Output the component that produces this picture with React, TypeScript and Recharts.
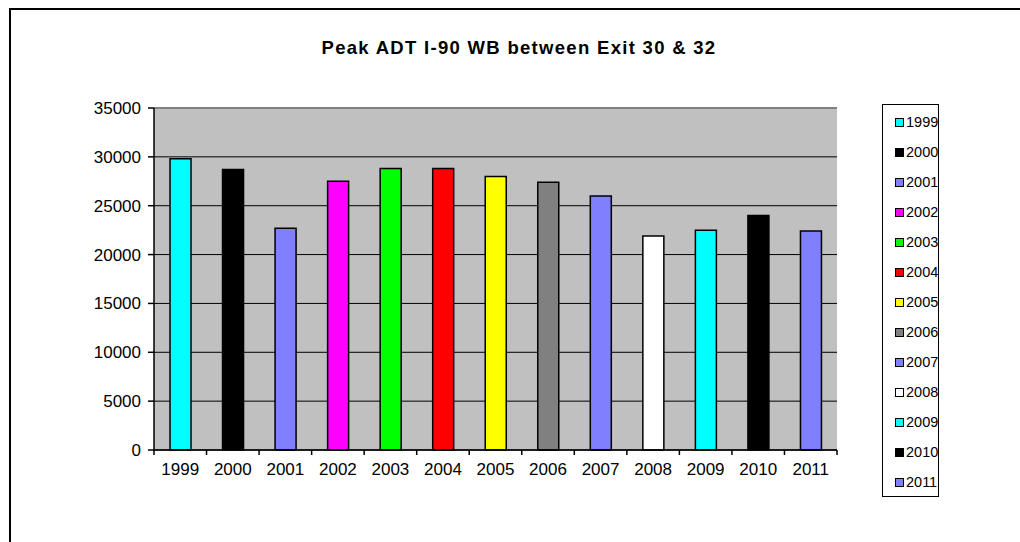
import React from 'react';
import {
  BarChart,
  Bar,
  Cell,
  XAxis,
  YAxis,
  CartesianGrid,
  ReferenceLine,
} from 'recharts';

const years = ['1999', '2000', '2001', '2002', '2003', '2004', '2005', '2006', '2007', '2008', '2009', '2010', '2011'];
const peakAdt = [29800, 28700, 22700, 27500, 28800, 28800, 28000, 27400, 26000, 21900, 22500, 24000, 22400];
const barColors = [
  '#00FFFF', '#000000', '#8080FF', '#FF00FF', '#00FF00', '#FF0000', '#FFFF00',
  '#808080', '#8080FF', '#FFFFFF', '#00FFFF', '#000000', '#8080FF',
];
const yTicks = [0, 5000, 10000, 15000, 20000, 25000, 30000, 35000];

const chartData = years.map((year, i) => ({ year, adt: peakAdt[i] }));

const FONT = 'Arial, "Liberation Sans", sans-serif';

// excel style: tick marks sit between categories, not under them
function YearTick(props: any) {
  const { x, y, payload, index, visibleTicksCount } = props;
  const band = (props.width ?? 683) / visibleTicksCount;
  const axisY = y - 13;
  return (
    <g>
      <line x1={x - band / 2} x2={x - band / 2} y1={axisY} y2={axisY + 5} stroke="#000" strokeWidth={1.5} />
      {index === visibleTicksCount - 1 && (
        <line x1={x + band / 2} x2={x + band / 2} y1={axisY} y2={axisY + 5} stroke="#000" strokeWidth={1.5} />
      )}
      <text x={x} y={y} dy="0.71em" textAnchor="middle" fontSize={17} fontFamily={FONT} fill="#000">
        {payload.value}
      </text>
    </g>
  );
}

function ValueTick(props: any) {
  const { x, y, payload } = props;
  return (
    <text x={x} y={y} dy="0.355em" textAnchor="end" fontSize={17} fontFamily={FONT} fill="#000">
      {payload.value}
    </text>
  );
}

export default function App() {
  return (
    <div style={{ position: 'absolute', left: 0, top: 0, width: 1020, height: 542, background: '#fff', overflow: 'hidden', fontFamily: FONT }}>
      <div style={{ position: 'absolute', left: 9, top: 8, width: 1030, height: 560, border: '2px solid #000', boxSizing: 'border-box' }} />
      <div style={{ position: 'absolute', left: 0, top: 37, width: 1038, textAlign: 'center', fontSize: 18.5, fontWeight: 'bold', letterSpacing: 1.3 }}>
        Peak ADT I-90 WB between Exit 30 &amp; 32
      </div>
      <div style={{ position: 'absolute', left: 0, top: 0 }}>
        <BarChart width={1020} height={542} data={chartData} margin={{ top: 108, right: 183, bottom: 62, left: 0 }} barSize={21}>
          <CartesianGrid vertical={false} stroke="#000" strokeWidth={1} fill="#C0C0C0" fillOpacity={1} />
          <ReferenceLine y={35000} stroke="#808080" strokeWidth={2} />
          <XAxis
            dataKey="year"
            height={30}
            tickSize={5}
            tickMargin={8}
            tickLine={false}
            axisLine={{ stroke: '#000', strokeWidth: 1.5 }}
            tick={<YearTick />}
            interval={0}
          />
          <YAxis
            width={154}
            domain={[0, 35000]}
            ticks={yTicks}
            tickSize={6}
            tickMargin={7}
            axisLine={{ stroke: '#000', strokeWidth: 1.5 }}
            tickLine={{ stroke: '#000', strokeWidth: 1.5 }}
            tick={<ValueTick />}
          />
          <Bar dataKey="adt" stroke="#000" strokeWidth={1.5} isAnimationActive={false}>
            {chartData.map((d, i) => (
              <Cell key={d.year} fill={barColors[i]} />
            ))}
          </Bar>
        </BarChart>
      </div>
      <div style={{ position: 'absolute', left: 882, top: 104, width: 57, height: 393, border: '1px solid #000', boxSizing: 'border-box', background: '#fff' }}>
        {years.map((year, i) => (
          <div key={year} style={{ position: 'absolute', left: 12, top: 8 + i * 30, height: 18, display: 'flex', alignItems: 'center', fontSize: 14.5 }}>
            <span style={{ display: 'inline-block', width: 7, height: 7, border: '1px solid #000', background: barColors[i], marginRight: 2 }} />
            {year}
          </div>
        ))}
      </div>
    </div>
  );
}
